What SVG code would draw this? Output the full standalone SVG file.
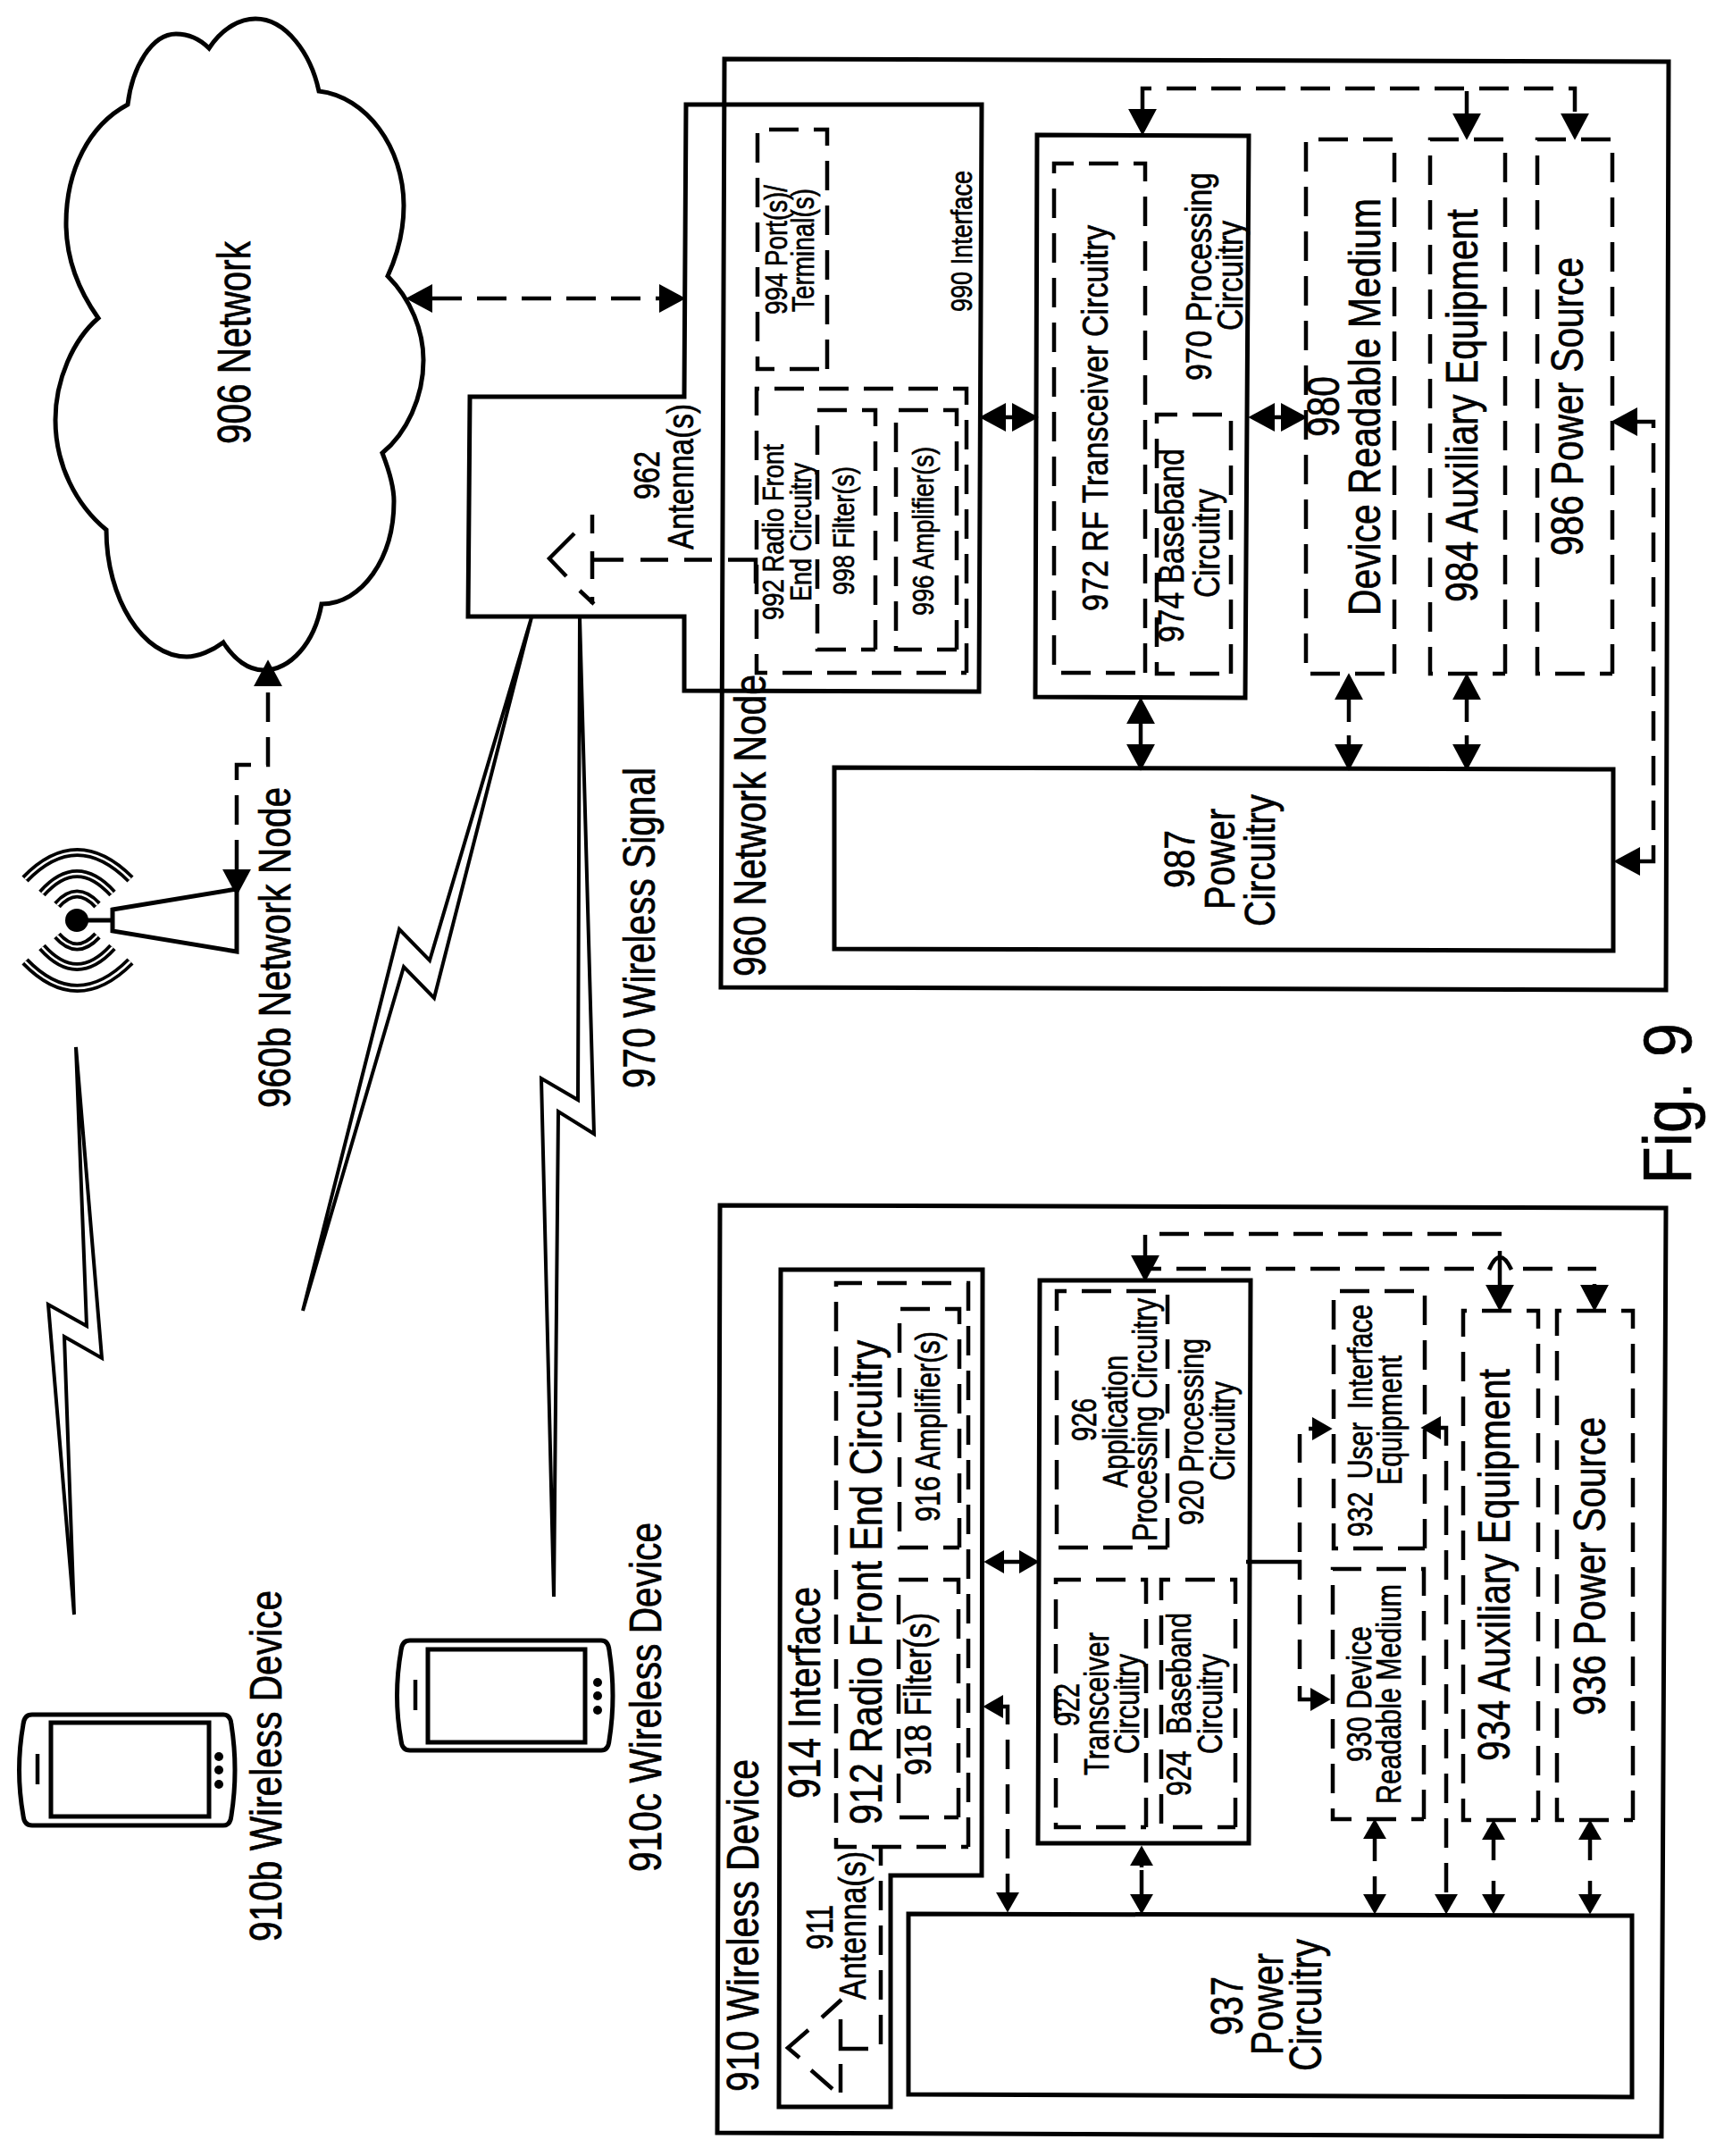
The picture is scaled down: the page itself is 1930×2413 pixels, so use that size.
<svg xmlns="http://www.w3.org/2000/svg" width="1930" height="2413" viewBox="0 0 1930 2413">
<style>
text{font-family:"Liberation Sans",Arial,sans-serif;fill:#000;stroke:#000;stroke-width:.7}
.s{fill:none;stroke:#000;stroke-width:5}
.d{fill:none;stroke:#000;stroke-width:4.5;stroke-dasharray:33 17}
.l{fill:none;stroke:#000;stroke-width:4.5}
.w1{fill:none;stroke:#000;stroke-width:10}
.w2{fill:none;stroke:#fff;stroke-width:2.5}
.b{fill:none;stroke:#000;stroke-width:4;stroke-linejoin:miter}
.ab{marker-end:url(#big);marker-start:url(#big)}
.ae{marker-end:url(#big)}
.sb{marker-end:url(#sm);marker-start:url(#sm)}
.se{marker-end:url(#sm)}
</style>
<defs>
<marker id="big" markerUnits="userSpaceOnUse" markerWidth="32" markerHeight="34" viewBox="0 -16 30 32" refX="0" refY="0" orient="auto-start-reverse"><path d="M0,-15L28,0L0,15Z" fill="#000"/></marker>
<marker id="sm" markerUnits="userSpaceOnUse" markerWidth="26" markerHeight="28" viewBox="0 -13 24 26" refX="0" refY="0" orient="auto-start-reverse"><path d="M0,-12L21,0L0,12Z" fill="#000"/></marker>
</defs>
<rect width="1930" height="2413" fill="#fff"/>

<g id="network-906">
<path class="s" d="M234,54C250,30 270,21 286,21C320,21 348,60 357,102C410,108 452,165 452,230C452,260 445,285 434,309C460,335 474,370 474,403C474,445 455,485 428,507C437,530 441,545 441,561C441,625 405,676 360,676C352,720 325,750 295,750C278,750 262,738 250,719C238,728 222,735 209,735C160,735 119,670 119,593C85,565 62,520 62,470C62,425 82,380 110,356C88,325 74,290 74,250C74,190 100,140 143,117C148,75 170,38 197,38C212,38 225,45 234,54Z"/>
<text transform="translate(280,497) rotate(-90)" font-size="51" textLength="227" lengthAdjust="spacingAndGlyphs">906 Network</text>
</g>

<g id="node-960b">
<path class="s" d="M126,1018L265,995V1065L126,1042ZM126,1030H90"/>
<circle cx="86" cy="1030" r="13" fill="#000"/>
<path class="w1" d="M28,984Q86,924 146,984M47,1000Q86,956 126,1000M64,1013Q86,988 109,1013M28,1076Q86,1136 146,1076M47,1060Q86,1104 126,1060M64,1047Q86,1072 109,1047"/>
<path class="w2" d="M28,984Q86,924 146,984M47,1000Q86,956 126,1000M64,1013Q86,988 109,1013M28,1076Q86,1136 146,1076M47,1060Q86,1104 126,1060M64,1047Q86,1072 109,1047"/>
<text transform="translate(325,1240) rotate(-90)" font-size="50" textLength="359" lengthAdjust="spacingAndGlyphs">960b Network Node</text>
</g>

<g id="signal-970">
<path class="b" d="M595,691L481,1075L447,1040L339,1467L452,1082L486,1117Z"/>
<path class="b" d="M649,691L647,1231L606,1207L620,1787L625,1244L665,1269Z"/>
<path class="b" d="M85,1172L97,1484L54,1460L83,1807L72,1496L114,1520Z"/>
<text transform="translate(733,1218) rotate(-90)" font-size="50" textLength="359" lengthAdjust="spacingAndGlyphs">970 Wireless Signal</text>
</g>

<g id="device-910b">
<path class="s" d="M36,1919H250Q258,1919 259,1930Q267,1981 259,2032Q258,2043 250,2043H36Q27,2043 26,2032Q17,1981 26,1930Q27,1919 36,1919Z"/>
<rect class="s" x="57" y="1928" width="177" height="105"/>
<path class="l" d="M42,1963V1997"/>
<circle cx="245" cy="1966" r="5"/><circle cx="245" cy="1981" r="5"/><circle cx="245" cy="1997" r="5"/>
<text transform="translate(315,2173) rotate(-90)" font-size="50" textLength="393" lengthAdjust="spacingAndGlyphs">910b Wireless Device</text>
</g>

<g id="device-910c">
<path class="s" d="M459,1836H673Q681,1836 682,1847Q690,1898 682,1948Q681,1959 673,1959H459Q450,1959 449,1948Q440,1898 449,1847Q450,1836 459,1836Z"/>
<rect class="s" x="479" y="1846" width="176" height="104"/>
<path class="l" d="M465,1880V1914"/>
<circle cx="669" cy="1883" r="5"/><circle cx="669" cy="1898" r="5"/><circle cx="669" cy="1914" r="5"/>
<text transform="translate(740,2095) rotate(-90)" font-size="50" textLength="391" lengthAdjust="spacingAndGlyphs">910c Wireless Device</text>
</g>

<g id="node-960">
<polygon class="s" points="811,66 1868,69 1865,1108 807,1105"/>
<text transform="translate(857,1093) rotate(-90)" font-size="50" textLength="338" lengthAdjust="spacingAndGlyphs">960 Network Node</text>
</g>

<g id="interface-990">
<polygon class="s" points="768,117 1099,117 1096,774 766,773 766,690 524,690 526,444 766,444"/>
<text transform="translate(1088,349) rotate(-90)" font-size="34" textLength="158" lengthAdjust="spacingAndGlyphs">990 Interface</text>
</g>

<g id="antenna-962">
<path class="l" d="M643,597L615,625L634,645M649,661L665,676M663,576V597M663,617V648M663,668V676M663,626.5H698M717,626.5H748M766,626.5H797M815,626.5H846V653"/>
<text transform="translate(738,559) rotate(-90)" font-size="40" textLength="54" lengthAdjust="spacingAndGlyphs">962</text>
<text transform="translate(776,615) rotate(-90)" font-size="41" textLength="163" lengthAdjust="spacingAndGlyphs">Antenna(s)</text>
</g>

<g id="port-994">
<path class="d" d="M926,413V145H848V413H926"/>
<text transform="translate(881,352) rotate(-90)" font-size="35" textLength="145" lengthAdjust="spacingAndGlyphs">994 Port(s)/</text>
<text transform="translate(911,349) rotate(-90)" font-size="35" textLength="138" lengthAdjust="spacingAndGlyphs">Terminal(s)</text>
</g>

<g id="rfe-992">
<path class="d" d="M1082,753V435H847V753H1082"/>
<text transform="translate(877,694) rotate(-90)" font-size="34" textLength="197" lengthAdjust="spacingAndGlyphs">992 Radio Front</text>
<text transform="translate(908,673) rotate(-90)" font-size="34" textLength="155" lengthAdjust="spacingAndGlyphs">End Circuitry</text>
</g>
<g id="filter-998">
<path class="d" d="M980,727V459H915V727H980"/>
<text transform="translate(956,666) rotate(-90)" font-size="34" textLength="144" lengthAdjust="spacingAndGlyphs">998 Filter(s)</text>
</g>
<g id="amp-996">
<path class="d" d="M1071,727V459H1003V727H1071"/>
<text transform="translate(1045,689) rotate(-90)" font-size="34" textLength="189" lengthAdjust="spacingAndGlyphs">996 Amplifier(s)</text>
</g>

<g id="processing-970">
<polygon class="s" points="1161,151 1398,152 1394,781 1159,780"/>
<text transform="translate(1356,426) rotate(-90)" font-size="41" textLength="233" lengthAdjust="spacingAndGlyphs">970 Processing</text>
<text transform="translate(1391,370) rotate(-90)" font-size="41" textLength="123" lengthAdjust="spacingAndGlyphs">Circuitry</text>
</g>
<g id="rf-972">
<path class="d" d="M1282,753V183H1180V753H1282"/>
<text transform="translate(1240,684) rotate(-90)" font-size="41" textLength="432" lengthAdjust="spacingAndGlyphs">972 RF Transceiver Circuitry</text>
</g>
<g id="baseband-974">
<path class="d" d="M1378,754V464H1295V754H1378"/>
<text transform="translate(1325,719) rotate(-90)" font-size="41" textLength="217" lengthAdjust="spacingAndGlyphs">974 Baseband</text>
<text transform="translate(1365,669) rotate(-90)" font-size="41" textLength="122" lengthAdjust="spacingAndGlyphs">Circuitry</text>
</g>
<g id="drm-980">
<path class="d" d="M1561,754V156H1462V754H1561"/>
<text transform="translate(1499,489) rotate(-90)" font-size="50" textLength="68" lengthAdjust="spacingAndGlyphs">980</text>
<text transform="translate(1545,689) rotate(-90)" font-size="50" textLength="467" lengthAdjust="spacingAndGlyphs">Device Readable Medium</text>
</g>
<g id="aux-984">
<path class="d" d="M1685,754V156H1601V754H1685"/>
<text transform="translate(1654,674) rotate(-90)" font-size="50" textLength="440" lengthAdjust="spacingAndGlyphs">984 Auxiliary Equipment</text>
</g>
<g id="source-986">
<path class="d" d="M1805,754V156H1721V754H1805"/>
<text transform="translate(1772,622) rotate(-90)" font-size="50" textLength="334" lengthAdjust="spacingAndGlyphs">986 Power Source</text>
</g>
<g id="power-987">
<polygon class="s" points="934,859 1806,861 1806,1064 934,1062"/>
<text transform="translate(1337,994) rotate(-90)" font-size="49" textLength="65" lengthAdjust="spacingAndGlyphs">987</text>
<text transform="translate(1382,1018) rotate(-90)" font-size="49" textLength="113" lengthAdjust="spacingAndGlyphs">Power</text>
<text transform="translate(1427,1037) rotate(-90)" font-size="49" textLength="148" lengthAdjust="spacingAndGlyphs">Circuitry</text>
</g>

<g id="fig-label">
<text transform="translate(1893,1325) rotate(-90) scale(.9,1)" font-size="76" word-spacing="10">Fig. 9</text>
</g>

<g id="device-910">
<polygon class="s" points="806,1349 1865,1352 1860,2391 803,2387"/>
<text transform="translate(849,2341) rotate(-90)" font-size="50" textLength="372" lengthAdjust="spacingAndGlyphs">910 Wireless Device</text>
</g>
<g id="interface-914">
<polygon class="s" points="874,1421 1100,1421 1099,2099 997,2099 997,2358 872,2358"/>
<text transform="translate(918,2013) rotate(-90)" font-size="50" textLength="237" lengthAdjust="spacingAndGlyphs">914 Interface</text>
</g>
<g id="antenna-911">
<path class="l" d="M942,2238L920,2258M905,2272L882,2292L895,2303M908,2317L932,2338M941,2310V2342M941,2260V2293H972"/>
<path class="d" d="M986,2288V2067"/>
<text transform="translate(932,2182) rotate(-90)" font-size="42" textLength="50" lengthAdjust="spacingAndGlyphs">911</text>
<text transform="translate(969,2238) rotate(-90)" font-size="42" textLength="166" lengthAdjust="spacingAndGlyphs">Antenna(s)</text>
</g>
<g id="rfe-912">
<path class="d" d="M1084,2067V1436H936V2067H1084"/>
<text transform="translate(987,2042) rotate(-90)" font-size="50" textLength="542" lengthAdjust="spacingAndGlyphs">912 Radio Front End Circuitry</text>
</g>
<g id="filter-918">
<path class="d" d="M1073,2034V1768H1006V2034H1073"/>
<text transform="translate(1042,1987) rotate(-90)" font-size="42" textLength="182" lengthAdjust="spacingAndGlyphs">918 Filter(s)</text>
</g>
<g id="amp-916">
<path class="d" d="M1074,1732V1465H1007V1732H1074"/>
<text transform="translate(1052,1703) rotate(-90)" font-size="38" textLength="213" lengthAdjust="spacingAndGlyphs">916 Amplifier(s)</text>
</g>
<g id="processing-920">
<polygon class="s" points="1164,1433 1400,1433 1398,2063 1162,2063"/>
<text transform="translate(1347,1707) rotate(-90)" font-size="38" textLength="209" lengthAdjust="spacingAndGlyphs">920 Processing</text>
<text transform="translate(1382,1657) rotate(-90)" font-size="38" textLength="111" lengthAdjust="spacingAndGlyphs">Circuitry</text>
</g>
<g id="app-926">
<path class="d" d="M1307,1732V1445H1183V1732H1307"/>
<text transform="translate(1227,1613) rotate(-90)" font-size="38" textLength="48" lengthAdjust="spacingAndGlyphs">926</text>
<text transform="translate(1262,1665) rotate(-90)" font-size="38" textLength="148" lengthAdjust="spacingAndGlyphs">Application</text>
<text transform="translate(1295,1725) rotate(-90)" font-size="38" textLength="272" lengthAdjust="spacingAndGlyphs">Processing Circuitry</text>
</g>
<g id="transceiver-922">
<path class="d" d="M1283,2045V1768H1182V2045H1283"/>
<text transform="translate(1208,1932) rotate(-90)" font-size="38" textLength="48" lengthAdjust="spacingAndGlyphs">922</text>
<text transform="translate(1241,1987) rotate(-90)" font-size="38" textLength="160" lengthAdjust="spacingAndGlyphs">Transceiver</text>
<text transform="translate(1275,1963) rotate(-90)" font-size="38" textLength="112" lengthAdjust="spacingAndGlyphs">Circuitry</text>
</g>
<g id="baseband-924">
<path class="d" d="M1383,2045V1768H1300V2045H1383"/>
<text transform="translate(1333,2010) rotate(-90)" font-size="38" word-spacing="13" textLength="205" lengthAdjust="spacingAndGlyphs">924 Baseband</text>
<text transform="translate(1368,1963) rotate(-90)" font-size="38" textLength="112" lengthAdjust="spacingAndGlyphs">Circuitry</text>
</g>
<g id="drm-930">
<path class="d" d="M1594,2036V1756H1492V2036H1594"/>
<text transform="translate(1535,1972) rotate(-90)" font-size="38" textLength="152" lengthAdjust="spacingAndGlyphs">930 Device</text>
<text transform="translate(1568,2019) rotate(-90)" font-size="38" textLength="246" lengthAdjust="spacingAndGlyphs">Readable Medium</text>
</g>
<g id="ui-932">
<path class="d" d="M1595,1733V1445H1493V1733H1595"/>
<text transform="translate(1536,1720) rotate(-90)" font-size="38" word-spacing="8" textLength="260" lengthAdjust="spacingAndGlyphs">932 User Interface</text>
<text transform="translate(1569,1662) rotate(-90)" font-size="38" textLength="145" lengthAdjust="spacingAndGlyphs">Equipment</text>
</g>
<g id="aux-934">
<path class="d" d="M1722,2037V1467H1638V2037H1722"/>
<text transform="translate(1690,1971) rotate(-90)" font-size="50" textLength="439" lengthAdjust="spacingAndGlyphs">934 Auxiliary Equipment</text>
</g>
<g id="source-936">
<path class="d" d="M1828,2037V1467H1743V2037H1828"/>
<text transform="translate(1797,1920) rotate(-90)" font-size="50" textLength="334" lengthAdjust="spacingAndGlyphs">936 Power Source</text>
</g>
<g id="power-937">
<polygon class="s" points="1017,2142 1827,2144 1827,2347 1017,2344"/>
<text transform="translate(1391,2278) rotate(-90)" font-size="50" textLength="66" lengthAdjust="spacingAndGlyphs">937</text>
<text transform="translate(1436,2300) rotate(-90)" font-size="50" textLength="114" lengthAdjust="spacingAndGlyphs">Power</text>
<text transform="translate(1479,2318) rotate(-90)" font-size="50" textLength="148" lengthAdjust="spacingAndGlyphs">Circuitry</text>
</g>

<g id="connectors">
<path class="d ab" d="M484,334H738"/>
<path class="d ab" d="M265,973V856H300V768"/>
<path class="d ab" d="M1279,122V99H1763V127"/>
<path class="l ae" d="M1642,102V127"/>
<path class="l ab" d="M1126,467H1133"/>
<path class="l ab" d="M1427,467H1434"/>
<path class="d ab" d="M1836,964H1851V472H1833"/>
<path class="l ab" d="M1277,810V833"/>
<path class="l ab" style="stroke-dasharray:25 15" d="M1510,783V833"/>
<path class="l ab" style="stroke-dasharray:25 15" d="M1642,783V833"/>

<path class="d sb" style="stroke-dashoffset:8" d="M1123,1910H1128V2118"/>
<path class="l sb" d="M1124,1748H1141"/>
<path class="d ab" style="marker-end:none;stroke-dashoffset:10" d="M1282,1405V1381H1682"/>
<path class="d" style="stroke-dashoffset:16" d="M1283,1420H1650"/>
<path class="d" d="M1705,1420H1787"/>
<path class="l" d="M1679,1400V1433M1667,1421Q1679,1393 1692,1421"/>
<path class="l ae" d="M1679,1433V1438"/>
<path class="l ae" d="M1785,1437V1438"/>
<path class="l" d="M1395,1748H1455V1768"/>
<path class="d" d="M1455,1737V1605"/>
<path class="l se" d="M1465,1599H1469"/>
<path class="d" d="M1455,1785V1868"/>
<path class="l se" d="M1455,1887V1902H1467"/>
<path class="d sb" style="stroke-dashoffset:7" d="M1613,1598H1619V2120"/>
<path class="l se" d="M1278,2093V2120"/>
<path class="l se" d="M1278,2090V2088"/>
<path class="l se" d="M1539,2083V2058"/>
<path class="l se" d="M1539,2100V2120"/>
<path class="l se" d="M1672,2082V2059"/>
<path class="l se" d="M1672,2105V2120"/>
<path class="l se" d="M1780,2082V2059"/>
<path class="l se" d="M1780,2105V2120"/>
</g>
</svg>
